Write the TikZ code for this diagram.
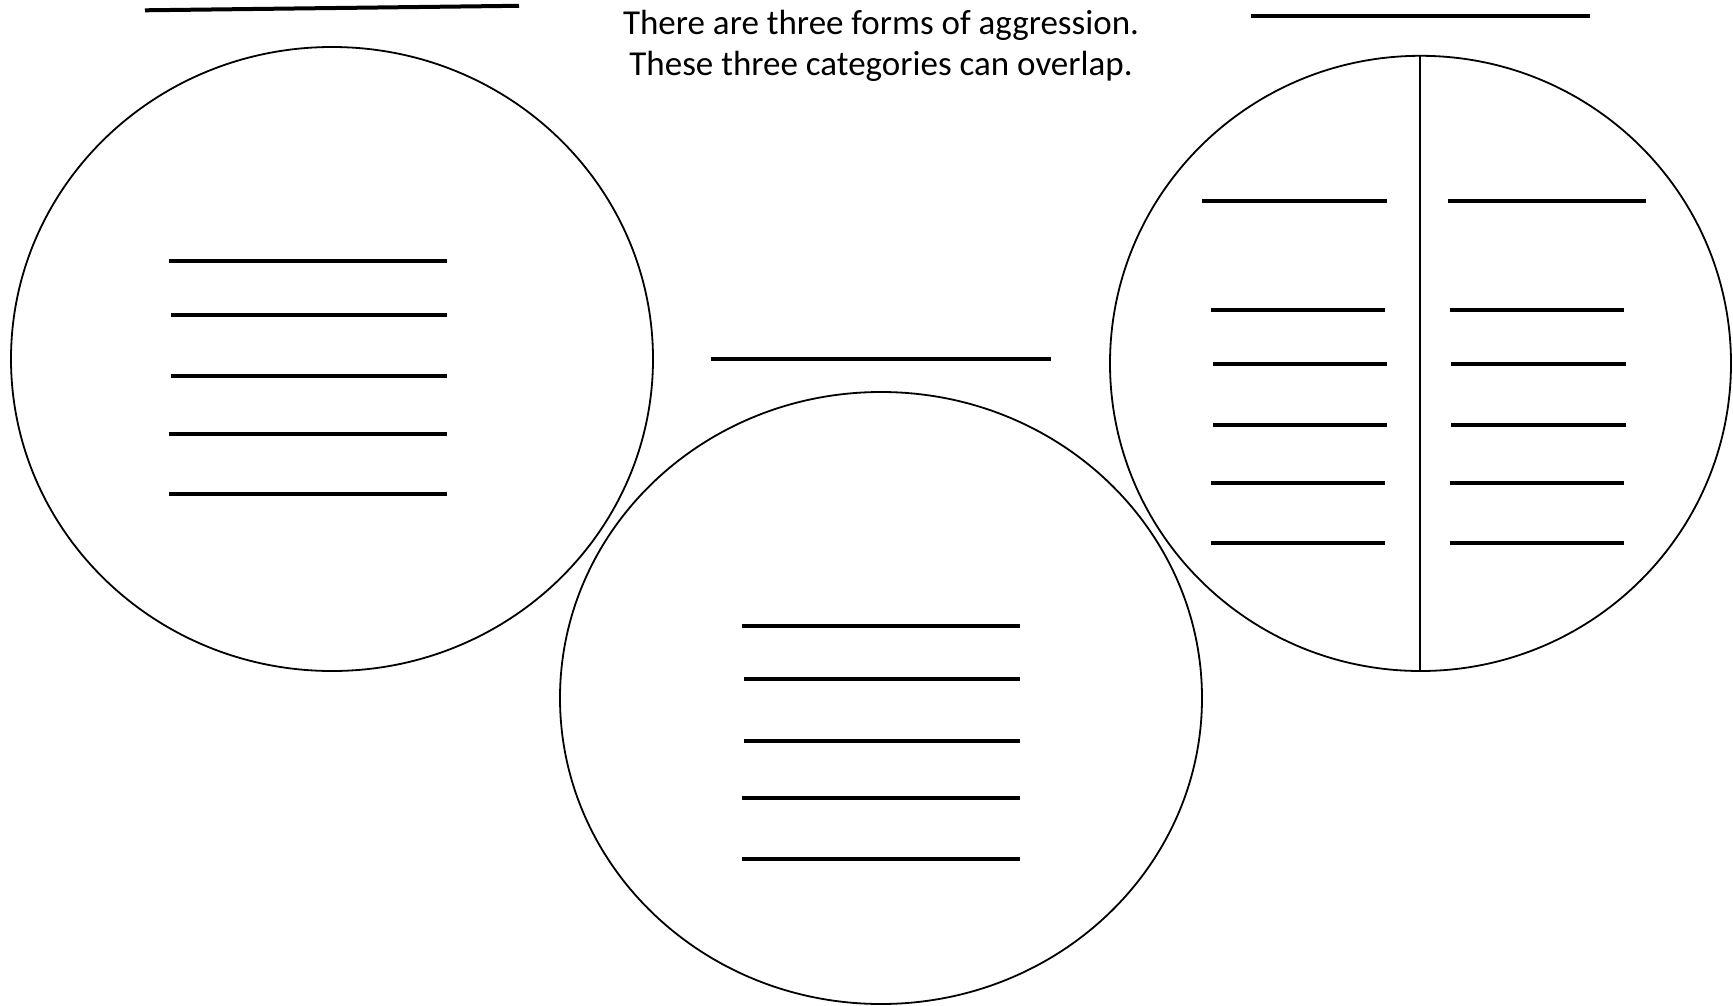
\documentclass[tikz,border=0pt]{standalone}
\usepackage{fontspec}
\setmainfont{Carlito}
\begin{document}
\begin{tikzpicture}[x=1pt,y=-1pt,
  blank/.style={line width=4pt},
  ring/.style={line width=1.8pt},
  caption/.style={anchor=base,inner sep=0pt,font=\fontsize{35}{42}\selectfont}]
\useasboundingbox (0,0) rectangle (1733,1006);
\fill[white] (0,0) rectangle (1733,1006);

% caption
\node[caption] (t1) at (881,35) {There are three forms of aggression.};
\node[caption] (t2) at (881,76) {These three categories can overlap.};

% title lines
\draw[blank] (145,10.3) -- (519,5.8);
\draw[blank] (1250.6,16.5) -- (1590,16.5);
\draw[blank] (711.4,359) -- (1051,359);

% left circle
\draw[ring] (332,359) ellipse [x radius=321, y radius=312];
\foreach \y/\xa in {260.7/168.8, 314.7/171, 376.3/171, 433.5/168.8, 494.2/168.8}
  \draw[blank] (\xa,\y) -- (447.3,\y);

% middle circle
\draw[ring] (881,698) ellipse [x radius=321, y radius=306];
\foreach \y/\xa in {625.9/741.8, 679.4/744, 740.6/744, 798.4/741.8, 858.7/741.8}
  \draw[blank] (\xa,\y) -- (1020.4,\y);

% right circle
\draw[ring] (1420.5,363.4) ellipse [x radius=310.5, y radius=307.6];
\draw[ring] (1420,55.8) -- (1420,671);
\draw[blank] (1201.7,200.9) -- (1387.4,200.9);
\draw[blank] (1448,200.9) -- (1645.8,200.9);
\foreach \y/\xa/\xb/\xc/\xd in {309.8/1211/1385.4/1449.6/1624, 364.3/1213/1387.4/1451/1625.6, 425.4/1213/1387.4/1451/1625.6, 482.6/1211/1385.4/1449.6/1624, 543.3/1211/1385.4/1449.6/1624}
{
  \draw[blank] (\xa,\y) -- (\xb,\y);
  \draw[blank] (\xc,\y) -- (\xd,\y);
}
\end{tikzpicture}
\end{document}
